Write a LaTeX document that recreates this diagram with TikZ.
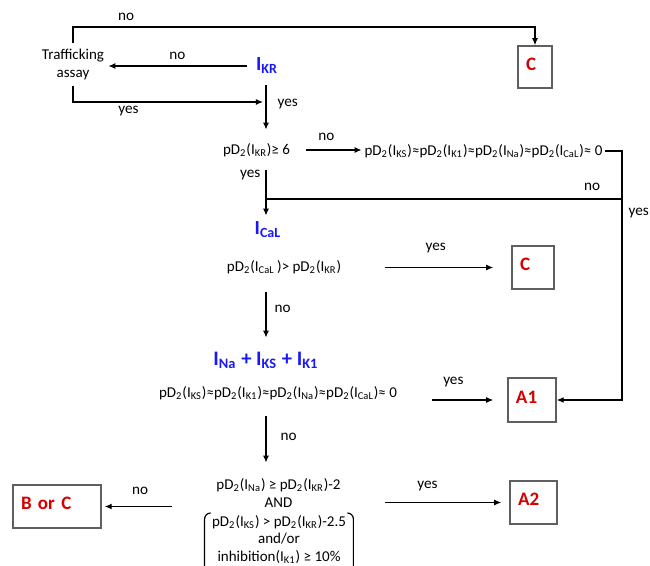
\documentclass[tikz,border=0pt]{standalone}
\usepackage{fontspec}
\setmainfont{Carlito}
\usepackage{xcolor}
\usetikzlibrary{arrows.meta}

\definecolor{ionblue}{RGB}{25,25,245}
\definecolor{classred}{RGB}{215,0,0}
\definecolor{boxgray}{RGB}{95,95,95}
\newcommand{\sbs}[1]{\textsubscript{#1}}

\begin{document}
\begin{tikzpicture}[x=0.5pt, y=-0.5pt,
	txt/.style={font=\fontsize{7.5}{8.8}\selectfont, align=center, inner sep=0pt},
	ion/.style={font=\fontsize{10}{12}\selectfont\bfseries, text=ionblue, inner sep=0pt},
	cls/.style={draw=boxgray, line width=0.75pt, font=\fontsize{9.5}{11}\selectfont\bfseries, text=classred, align=left, inner xsep=4pt, text depth=3pt},
	lbl/.style={font=\fontsize{7.6}{9}\selectfont, inner sep=2pt},
	arr/.style={-{Latex[length=3.5pt, width=3pt]}, line width=0.6pt}]
	\useasboundingbox (0,0) rectangle (650,566);

	\node[txt, minimum width=35pt, minimum height=21.5pt] (traf) at (73,64.5) {Trafficking\\assay};
	\node[ion, minimum width=20pt, minimum height=19pt] (ikr) at (267,66) {I\sbs{KR}};
	\node[cls, text width=9pt, minimum height=21pt] (ctop) at (535,67) {C};
	\node[txt, minimum width=49.5pt, minimum height=20pt] (q1) at (256.5,150) {pD\sbs{2}(I\sbs{KR})≥ 6};
	\node[txt, minimum width=121.5pt, minimum height=20pt] (q1no) at (483.5,151) {pD\sbs{2}(I\sbs{KS})≈pD\sbs{2}(I\sbs{K1})≈pD\sbs{2}(I\sbs{Na})≈pD\sbs{2}(I\sbs{CaL})≈ 0};
	\node[ion, minimum height=14pt] (ical) at (268,230) {I\sbs{CaL}};
	\node[txt, minimum width=101pt, minimum height=25pt] (q2) at (284,267) {pD\sbs{2}(I\sbs{CaL}\,)> pD\sbs{2}(I\sbs{KR})};
	\node[cls, text width=13pt, minimum height=21.5pt] (cmid) at (533,267.5) {C};
	\node[ion, font=\fontsize{10.3}{12}\selectfont\bfseries, minimum height=22pt] (ina) at (266,360) {I\sbs{Na} + I\sbs{KS} + I\sbs{K1}};
	\node[txt, minimum width=154pt, minimum height=23pt] (q3) at (278,393) {pD\sbs{2}(I\sbs{KS})≈pD\sbs{2}(I\sbs{K1})≈pD\sbs{2}(I\sbs{Na})≈pD\sbs{2}(I\sbs{CaL})≈ 0};
	\node[cls, text width=16pt, minimum height=22pt] (a1) at (532,400) {A1};
	\node[txt, minimum width=106.5pt, minimum height=30pt] (q4) at (278.5,493) {pD\sbs{2}(I\sbs{Na}) ≥ pD\sbs{2}(I\sbs{KR})-2\\AND};
	\node[txt, anchor=north, minimum width=74pt, inner ysep=1pt] (q4b) at (279,513) {pD\sbs{2}(I\sbs{KS}) > pD\sbs{2}(I\sbs{KR})-2.5\\and/or\\inhibition(I\sbs{K1}) ≥ 10\%};
	\node[cls, text width=36pt, minimum height=21.5pt] (bc) at (57,506.5) {B or C};
	\node[cls, text width=15.5pt, minimum height=21.5pt] (a2) at (533.5,502.5) {A2};

	\coordinate (toprow) at (0,27);
	\coordinate (col) at (266,0);
	\coordinate (rc) at (622,0);
	\coordinate (j1) at (263,102);
	\coordinate (mj) at (266,199);

	\draw[arr] (traf.north) -- (traf.north |- toprow) -- node[lbl, above=1pt, pos=0.115] (n1) {no} (ctop.north |- toprow) -- (ctop.north);
	\draw[arr] (ikr.west) -- node[lbl, above=1pt] (n2) {no} (ikr.west -| traf.east);
	\draw[arr] (traf.south) |- node[lbl, below, pos=0.646] (y1) {yes} (j1);
	\draw[arr] (col |- ikr.south) -- node[lbl, right=3.5pt, pos=0.42] (y2) {yes} (col |- q1.north);
	\draw[arr] (q1.east) -- node[lbl, above=2.5pt, pos=0.36] (n3) {no} (q1.east -| q1no.west);
	\draw[arr] (q1no.east) -| node[lbl, right=1pt, pos=0.625] (y3) {yes} (rc |- a1.east) -- (a1.east);
	\draw[line width=0.6pt] (rc |- mj) -- node[lbl, above=2pt, pos=0.084] (n4) {no} (mj);
	\draw[arr] (col |- q1.south) -- node[lbl, left=0.5pt, pos=0.11] (y4) {yes} (col |- ical.north);
	\draw[arr, shorten >=9pt] (q2.east |- cmid.west) -- node[lbl, above=5pt, pos=0.4] (y5) {yes} (cmid.west);
	\draw[arr] (col |- q2.south) -- node[lbl, right=2pt, pos=0.37] (n5) {no} (col |- ina.north);
	\draw[arr, shorten >=7pt] (q3.east |- a1.west) -- node[lbl, above=4pt, pos=0.28] (y6) {yes} (a1.west);
	\draw[arr] (col |- q3.south) -- node[lbl, right=5pt, pos=0.45] (n6) {no} (col |- q4.north);
	\draw[arr, shorten >=1.5pt] (q4.west |- bc.east) -- node[lbl, above=3.5pt, pos=0.45] (n7) {no} (bc.east);
	\draw[arr, shorten >=4pt] (q4.east |- a2.west) -- node[lbl, above=3.5pt, pos=0.34] (y7) {yes} (a2.west);

	\draw[line width=0.6pt, rounded corners=3pt] ([xshift=3pt]q4b.north west) -- (q4b.north west) -- ([yshift=-4pt]q4b.south west) -- ([xshift=3pt, yshift=-4pt]q4b.south west);
	\draw[line width=0.6pt, rounded corners=3pt] ([xshift=-3pt]q4b.north east) -- (q4b.north east) -- ([yshift=-4pt]q4b.south east) -- ([xshift=-3pt, yshift=-4pt]q4b.south east);
\end{tikzpicture}
\end{document}
